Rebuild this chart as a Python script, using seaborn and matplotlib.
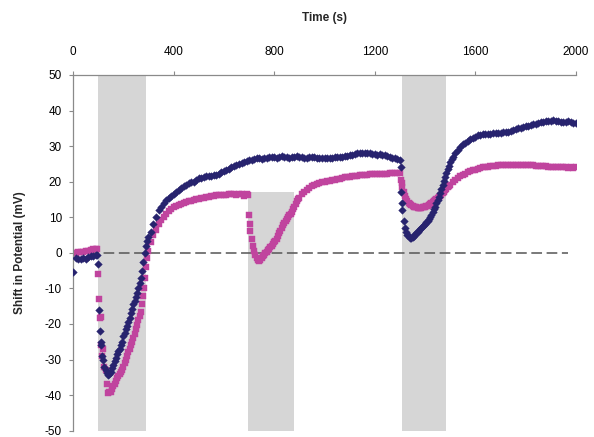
import matplotlib
matplotlib.use('Agg')
import matplotlib.pyplot as plt
import pandas as pd
import seaborn as sns

# time axis (s), one reading every 10 s
time_s = list(range(0, 2001, 10))

# navy diamonds
shift_a = [
    -5.5, -1.5, -1.8, -1.6, -1.5, -1.7, -1.2, -1.0, -0.8, -0.5,
    -3, -25, -30, -33, -34.3, -33.5, -31.5, -29.5, -27.5, -26,
    -23.5, -21.5, -19.5, -17, -14.5, -12.5, -10, -7, -2.5, 2,
    4.5, 6, 8, 10, 12, 13, 14, 14.8, 15.5, 16,
    16.5, 17, 17.8, 18.3, 18.8, 19.2, 19.5, 19.8, 20, 20.5,
    21, 21, 21.3, 21.5, 21.5, 21.6, 21.8, 22, 22.3, 22.6,
    23, 23.3, 23.6, 24, 24.3, 24.6, 25, 25.3, 25.5, 25.8,
    26, 26.2, 26.5, 26.6, 26.6, 26.4, 26.6, 26.8, 27, 27,
    26.9, 26.8, 27, 27.1, 27, 27, 26.8, 27, 27, 27.2,
    27, 27, 26.8, 26.8, 27, 27, 26.9, 26.8, 26.6, 26.7,
    26.8, 26.8, 26.7, 26.8, 26.9, 27, 27, 27, 27.2, 27.3,
    27.4, 27.6, 27.8, 28, 28, 28.2, 28.2, 28.1, 28, 27.8,
    27.8, 27.6, 27.8, 27.6, 27.4, 27.2, 27, 26.8, 26.6, 26.4,
    26.2, 12, 7, 5, 4.3, 4.5, 5.2, 6, 6.8, 7.5,
    8.2, 9, 10, 11.5, 13, 14.8, 16.8, 19, 21.3, 23.5,
    25.5, 27, 28, 29, 29.8, 30.5, 31, 31.5, 32, 32.3,
    32.6, 33, 33.2, 33.3, 33.4, 33.5, 33.5, 33.6, 33.7, 33.8,
    33.8, 33.9, 34, 34.1, 34.3, 34.5, 34.7, 35, 35.2, 35.4,
    35.6, 35.8, 36, 36.1, 36.3, 36.5, 36.7, 36.9, 37, 37.1,
    37.2, 37.3, 37.2, 37, 36.8, 36.7, 36.8, 37, 36.8, 36.5,
    36.6,
]

# magenta squares
shift_b = [
    0, 0, 0.2, 0.2, 0.3, 0.5, 0.6, 0.8, 1.0, 1.2,
    -6, -18, -27, -33, -39.3, -39, -37.5, -36, -34.5, -33.5,
    -32, -30, -28, -26, -24, -21.5, -19, -16.5, -12, -4,
    0.5, 3, 5, 6.5, 8, 9.2, 10.2, 11, 11.8, 12.4,
    12.8, 13.2, 13.5, 13.8, 14, 14.3, 14.5, 14.7, 14.9, 15,
    15.2, 15.4, 15.5, 15.7, 15.8, 16, 16.1, 16.2, 16.3, 16.3,
    16.4, 16.4, 16.5, 16.5, 16.5, 16.4, 16.6, 16.6, 16.0, 16.5,
    10.5, 4, 0.5, -1.5, -2.3, -1.5, -0.5, 0.3, 1.2, 2,
    3, 3.8, 5.5, 7, 8.5, 9.5, 10.5, 11.5, 13, 14.5,
    15.5, 16.5, 17.2, 17.8, 18.2, 18.7, 19, 19.3, 19.6, 19.8,
    20, 20.1, 20.2, 20.4, 20.6, 20.7, 20.9, 21, 21.2, 21.3,
    21.4, 21.5, 21.6, 21.7, 21.8, 21.9, 22, 22, 22.1, 22.1,
    22.2, 22.2, 22.1, 22.2, 22.3, 22.3, 22.4, 22.4, 22.4, 22.5,
    22.5, 18.5, 16, 14.5, 13.6, 13.2, 12.9, 12.7, 12.7, 12.8,
    13, 13.3, 13.7, 14.2, 14.8, 15.4, 16, 16.8, 17.6, 18.4,
    19.2, 19.9, 20.5, 21, 21.5, 21.9, 22.3, 22.6, 22.9, 23.2,
    23.4, 23.6, 23.8, 24, 24.1, 24.2, 24.3, 24.4, 24.5, 24.6,
    24.6, 24.7, 24.7, 24.7, 24.8, 24.8, 24.8, 24.8, 24.8, 24.7,
    24.7, 24.7, 24.6, 24.6, 24.5, 24.5, 24.4, 24.4, 24.3, 24.2,
    24.2, 24.1, 24.1, 24.0, 24.0, 24, 24, 23.9, 24, 23.9,
    24,
]

# extra readings where the traces change fast
extra_t_a = [95, 104, 107, 113, 117, 125, 135, 145, 155, 165, 175, 185, 195,
             205, 215, 225, 235, 245, 255, 265, 275, 285, 295,
             1303, 1305, 1307, 1315, 1325, 1335, 1345, 1355, 1365, 1375, 1385,
             1395, 1405, 1415, 1425, 1435, 1445, 1455, 1465, 1475, 1485, 1495, 1505]
extra_a = [-0.6, -16, -22, -26, -29, -32, -33.8, -34, -32.5, -30.5, -28.5, -27, -25,
           -22.5, -20.5, -18.3, -15.8, -13.5, -11.2, -8.5, -5, 0, 3.3,
           24, 17, 14, 9, 6, 4.6, 4.3, 4.8, 5.6, 6.4, 7.1,
           7.8, 8.6, 9.5, 10.7, 12.2, 13.9, 15.8, 17.9, 20.1, 22.4, 24.5, 26.3]

extra_t_b = [95, 104, 107, 113, 117, 125, 135, 145, 155, 165, 175, 185, 195,
             205, 215, 225, 235, 245, 255, 265, 275, 283, 287, 295,
             697, 703, 705, 715, 725, 735, 745, 755, 765, 775, 785, 795,
             805, 815, 825, 835, 845, 855, 865, 875, 885, 895,
             1305, 1307, 1315, 1325, 1335, 1345, 1355, 1365, 1375, 1385,
             1395, 1405, 1415, 1425, 1435, 1445, 1455, 1465, 1475, 1485, 1495]
extra_b = [1.2, -13, -18.3, -25.8, -29, -32, -37, -39.2, -38.2, -36.8, -35.2, -34, -32.8,
           -31, -29, -27, -25, -22.8, -20.2, -17.8, -14.5, -10, -7, -1.5,
           16.4, 8, 6.1, 2, -0.6, -2, -2, -1, -0.1, 0.8, 1.6, 2.5,
           3.4, 4.6, 6.2, 7.8, 9, 10, 11, 12.2, 13.8, 15,
           20.5, 19.5, 17.2, 15.2, 14, 13.4, 13, 12.8, 12.7, 12.7,
           12.9, 13.1, 13.5, 13.9, 14.5, 15.1, 15.7, 16.4, 17.2, 18, 18.8]

# shaded stimulus windows: (start, end, top)
windows = [(100, 290, 50), (695, 880, 17), (1310, 1485, 50)]

df_a = pd.DataFrame({'time': time_s + extra_t_a, 'shift': shift_a + extra_a})
df_b = pd.DataFrame({'time': time_s + extra_t_b, 'shift': shift_b + extra_b})

sns.set_style('white')
plt.rcParams['font.family'] = ['Liberation Sans', 'DejaVu Sans']
plt.rcParams['axes.unicode_minus'] = False

fig = plt.figure(figsize=(5.94, 4.37), dpi=100)
ax = fig.add_axes([0.1229, 0.0144, 0.8468, 0.814])

for start, end, top in windows:
    ax.fill_between([start, end], -50, top, color='#d6d6d6', linewidth=0, zorder=0)

ax.hlines(0, 0, 1970, colors='#555555', linestyles=(0, (7, 3)), linewidth=1.1, zorder=1)

sns.scatterplot(data=df_a, x='time', y='shift', ax=ax, marker='D', s=15,
                color='#27236e', edgecolor='#27236e', linewidth=0.3, zorder=3)
sns.scatterplot(data=df_b, x='time', y='shift', ax=ax, marker='s', s=15,
                color='#c0449e', edgecolor='#c0449e', linewidth=0.3, zorder=2)

ax.set_xlim(0, 2000)
ax.set_ylim(-50, 50)
ax.set_xticks([0, 400, 800, 1200, 1600, 2000])
ax.set_yticks(range(-50, 51, 10))
ax.xaxis.tick_top()
ax.set_xlabel('')
ax.set_ylabel('')

for side in ['right', 'bottom']:
    ax.spines[side].set_visible(False)
for side in ['top', 'left']:
    ax.spines[side].set_color('#8a8a8a')
    ax.spines[side].set_linewidth(0.9)

ax.tick_params(axis='x', top=True, bottom=False, length=3, width=0.8,
               color='#8a8a8a', pad=9, labelsize=8.5, labelcolor='black')
ax.tick_params(axis='y', left=True, length=3, width=0.8,
               color='#8a8a8a', pad=5, labelsize=8.5, labelcolor='black')

fig.text(0.546, 1 - 18 / 437, 'Time (s)', ha='center', va='center',
         fontsize=8.5, fontweight='bold')
fig.text(20 / 594, 1 - 253 / 437, 'Shift in Potential (mV)', ha='center', va='center',
         rotation=90, fontsize=8.5, fontweight='bold')

fig.savefig('out.png', dpi=100)
